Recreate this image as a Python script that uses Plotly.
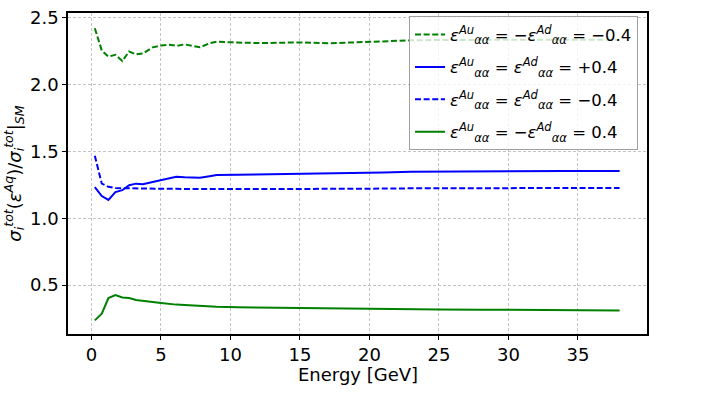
import plotly.graph_objects as go

energy = [0.24, 0.74, 1.22, 1.72, 2.22, 2.71, 3.2, 3.7, 4.4, 5.0, 5.6, 6.1, 6.7, 7.3, 7.8,
          8.5, 9.0, 10.5, 12, 13.5, 15, 17, 19, 21, 23, 25, 28, 31, 34, 38]

green_dashed = [2.423, 2.256, 2.21, 2.224, 2.177, 2.249, 2.227, 2.234, 2.280, 2.293, 2.300,
                2.291, 2.302, 2.293, 2.280, 2.310, 2.322, 2.316, 2.312, 2.314, 2.317, 2.310,
                2.318, 2.325, 2.332, 2.335, 2.337, 2.337, 2.337, 2.337]
blue_solid = [1.233, 1.166, 1.137, 1.196, 1.210, 1.247, 1.259, 1.255, 1.272, 1.286, 1.297,
              1.310, 1.306, 1.305, 1.303, 1.315, 1.323, 1.326, 1.328, 1.329, 1.330, 1.335,
              1.338, 1.343, 1.348, 1.350, 1.352, 1.353, 1.354, 1.354]
blue_dashed = [1.468, 1.259, 1.235, 1.226, 1.225, 1.224, 1.222, 1.219, 1.220, 1.221, 1.220,
               1.220, 1.219, 1.219, 1.219, 1.220, 1.219, 1.218, 1.218, 1.218, 1.218, 1.219,
               1.220, 1.222, 1.224, 1.225, 1.226, 1.226, 1.226, 1.227]
green_solid = [0.235, 0.285, 0.402, 0.424, 0.407, 0.402, 0.388, 0.380, 0.373, 0.366, 0.358,
               0.353, 0.351, 0.347, 0.341, 0.339, 0.337, 0.333, 0.331, 0.329, 0.326, 0.323,
               0.320, 0.318, 0.317, 0.316, 0.315, 0.313, 0.311, 0.309]

E = "<i>ε</i>"
AA = "<sub><i>αα</i></sub>"
labels = [
    f"{E}<sup><i>Au</i></sup>{AA} = −{E}<sup><i>Ad</i></sup>{AA} = −0.4",
    f"{E}<sup><i>Au</i></sup>{AA} = {E}<sup><i>Ad</i></sup>{AA} = +0.4",
    f"{E}<sup><i>Au</i></sup>{AA} = {E}<sup><i>Ad</i></sup>{AA} = −0.4",
    f"{E}<sup><i>Au</i></sup>{AA} = −{E}<sup><i>Ad</i></sup>{AA} = 0.4",
]
series = [green_dashed, blue_solid, blue_dashed, green_solid]
colors = ["#008000", "#0000ff", "#0000ff", "#008000"]
dashes = ["6px,2.6px", "solid", "6px,2.6px", "solid"]

x_ticks = [0, 5, 10, 15, 20, 25, 30, 35]
y_ticks = [0.5, 1.0, 1.5, 2.0, 2.5]

y_title = ("<i>σ</i><sub><i>i</i></sub><sup><i>tot</i></sup>(<i>ε</i><sup><i>Aq</i></sup>)/"
           "<i>σ</i><sub><i>i</i></sub><sup><i>tot</i></sup>|<sub><i>SM</i></sub>")
x_title = "Energy [GeV]"

fig = go.Figure()
for i, (lab, ys, c, d) in enumerate(zip(labels, series, colors, dashes)):
    fig.add_trace(go.Scatter(x=energy, y=ys, mode="lines", name=lab, legendgroup=str(i),
                             line=dict(color=c, width=2, dash=d)))

font = "DejaVu Sans"
axis_common = dict(showline=True, mirror=True, linecolor="black", linewidth=1.5,
                   ticks="outside", ticklen=4, tickwidth=1.3, tickcolor="black",
                   showgrid=True, gridcolor="#c4c4c4", gridwidth=0.8, griddash="3px,2px",
                   zeroline=False, tickfont=dict(family=font, size=18, color="black"))

fig.update_layout(
    width=726, height=402,
    margin=dict(l=68, r=79, t=7, b=68),
    paper_bgcolor="white", plot_bgcolor="white",
    font=dict(family=font, size=18, color="black"),
    showlegend=True,
    legend=dict(x=0.589, y=0.99, xanchor="left", yanchor="top",
                bgcolor="rgba(255,255,255,0.8)", bordercolor="#a0a0a0", borderwidth=1,
                font=dict(family=font, size=16.5, color="black"),
                tracegroupgap=8),
    xaxis=dict(range=[-1.69, 39.97], tickvals=x_ticks, **axis_common),
    yaxis=dict(range=[0.133, 2.537], tickvals=y_ticks, tickformat=".1f",
               title=dict(text=y_title, font=dict(family=font, size=18), standoff=4),
               **axis_common),
    annotations=[
        dict(text=x_title, xref="paper", yref="paper", x=0.5, y=(334 - 375) / 327,
             xanchor="center", yanchor="middle", showarrow=False,
             font=dict(family=font, size=18, color="black")),
    ],
)

fig.write_html("out.html")
